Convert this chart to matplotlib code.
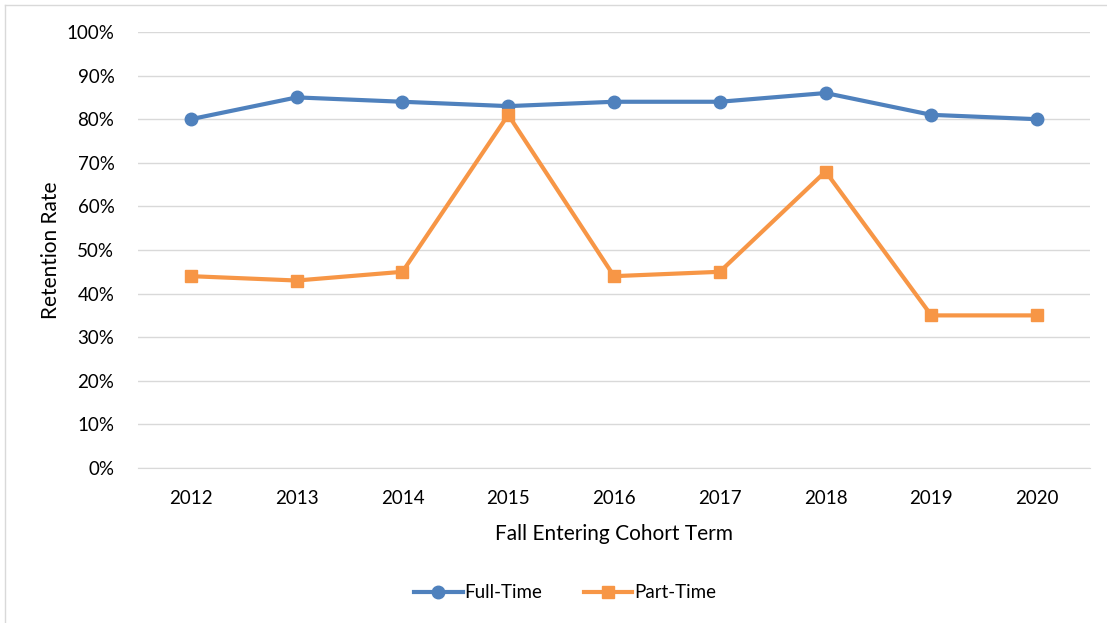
import matplotlib
matplotlib.use("Agg")
import matplotlib.pyplot as plt
from matplotlib.lines import Line2D

years = ["2012", "2013", "2014", "2015", "2016", "2017", "2018", "2019", "2020"]
full_time = [80, 85, 84, 83, 84, 84, 86, 81, 80]
part_time = [44, 43, 45, 81, 44, 45, 68, 35, 35]
y_ticks = [0, 10, 20, 30, 40, 50, 60, 70, 80, 90, 100]

plt.rcParams['font.family'] = ['Lato', 'DejaVu Sans']

fig = plt.figure(figsize=(11.07, 6.23), dpi=100)
ax = fig.add_axes([138/1107, 1 - 468/623, (1090-138)/1107, (468-32)/623])

x = list(range(len(years)))
blue = "#4F81BD"
orange = "#F79646"
ax.plot(x, full_time, color=blue, lw=3, marker='o', ms=9, label="Full-Time", zorder=3)
ax.plot(x, part_time, color=orange, lw=3, marker='s', ms=8, label="Part-Time", zorder=3)

ax.set_xlim(-0.5, len(years) - 0.5)
ax.set_ylim(0, 100)
ax.set_xticks(x)
ax.set_xticklabels(years)
ax.set_yticks(y_ticks)
ax.set_yticklabels([f"{v}%" for v in y_ticks])
ax.tick_params(axis='both', length=0, labelsize=13.5, colors="#000000")
ax.tick_params(axis='y', pad=17)
ax.tick_params(axis='x', pad=16)
ax.grid(axis='y', color="#D9D9D9", lw=1)
ax.set_axisbelow(True)
for s in ['top', 'right', 'left']:
    ax.spines[s].set_visible(False)
ax.spines['bottom'].set_color("#D9D9D9")

ax.set_xlabel("Fall Entering Cohort Term", fontsize=15, labelpad=12)
ax.set_ylabel("Retention Rate", fontsize=15, labelpad=4)

fig.legend(loc='center', bbox_to_anchor=(565/1107, 1 - 593/623), ncol=2, frameon=False,
           fontsize=13.5, handlelength=2.6, columnspacing=2.2, handletextpad=0.1)

# outer border (left & top)
fig.add_artist(Line2D([5/1107, 5/1107], [0, 1 - 5/623], transform=fig.transFigure, color="#D9D9D9", lw=1))
fig.add_artist(Line2D([5/1107, 1], [1 - 5/623, 1 - 5/623], transform=fig.transFigure, color="#D9D9D9", lw=1))

fig.savefig("out.png", dpi=100)
